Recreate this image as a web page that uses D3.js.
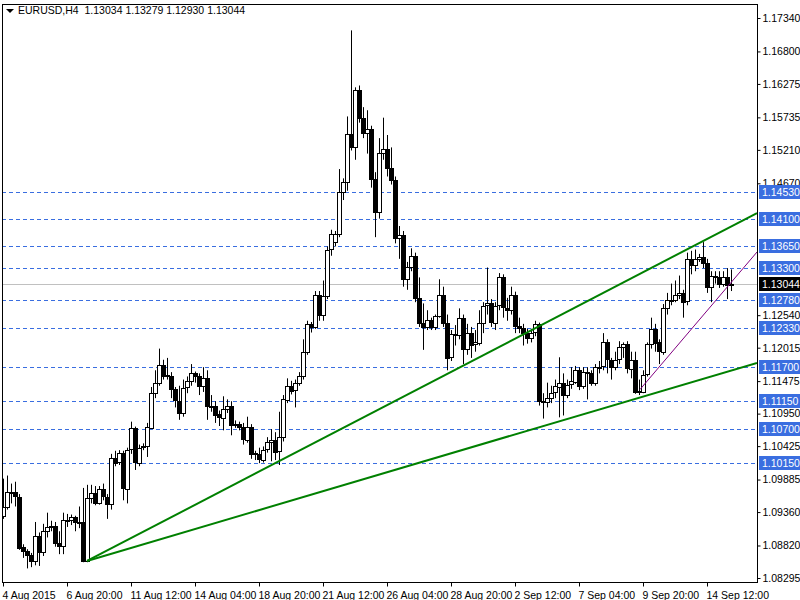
<!DOCTYPE html>
<html><head><meta charset="utf-8">
<script src="https://cdn.jsdelivr.net/npm/d3@7"></script>
<style>body{margin:0;background:#fff}svg{display:block;font-family:"Liberation Sans",sans-serif}</style>
</head><body><svg id="c" width="800" height="600"></svg>
<script>
const opens=[1.0930,1.0944,1.0968,1.0968,1.0961,1.0879,1.0873,1.0866,1.0857,1.0897,1.0871,1.0905,1.0912,1.0913,1.0886,1.0881,1.0923,1.0923,1.0928,1.0920,
1.0920,1.0857,1.0958,1.0966,1.0950,1.0973,1.0961,1.0950,1.1024,1.1016,1.1031,1.0974,1.1037,1.1071,1.1016,1.1042,1.1042,1.1073,1.1129,1.1145,
1.1174,1.1157,1.1155,1.1134,1.1116,1.1097,1.1137,1.1147,1.1160,1.1155,1.1139,1.1152,1.1107,1.1108,1.1094,1.1089,1.1103,1.1108,1.1078,1.1078,
1.1073,1.1053,1.1074,1.1031,1.1029,1.1021,1.1037,1.1049,1.1053,1.1034,1.1057,1.1118,1.1140,1.1132,1.1144,1.1155,1.1194,1.1240,1.1235,1.1287,
1.1255,1.1285,1.1360,1.1372,1.1385,1.1453,1.1469,1.1547,1.1526,1.1618,1.1572,1.1548,1.1555,1.1474,1.1421,1.1516,1.1522,1.1492,1.1472,1.1379,
1.1384,1.1313,1.1332,1.1350,1.1282,1.1242,1.1235,1.1247,1.1235,1.1253,1.1287,1.1242,1.1186,1.1223,1.1223,1.1250,1.1200,1.1226,1.1207,1.1210,
1.1242,1.1269,1.1273,1.1242,1.1269,1.1315,1.1266,1.1263,1.1287,1.1237,1.1234,1.1226,1.1218,1.1226,1.1239,1.1115,1.1115,1.1121,1.1129,1.1139,
1.1145,1.1126,1.1142,1.1147,1.1166,1.1140,1.1163,1.1161,1.1145,1.1171,1.1171,1.1210,1.1182,1.1171,1.1182,1.1202,1.1207,1.1168,1.1182,1.1131,
1.1131,1.1158,1.1207,1.1232,1.1210,1.1195,1.1266,1.1279,1.1279,1.1287,1.1290,1.1276,1.1344,1.1335,1.1345,1.1348,1.1339,1.1300,1.1318,1.1316,
1.1305,1.1316,1.13034];
const closes=[1.0944,1.0968,1.0968,1.0961,1.0879,1.0873,1.0866,1.0857,1.0897,1.0871,1.0905,1.0912,1.0913,1.0886,1.0881,1.0923,1.0923,1.0928,1.0920,1.0920,
1.0857,1.0958,1.0966,1.0950,1.0973,1.0961,1.0950,1.1024,1.1016,1.1031,1.0974,1.1037,1.1071,1.1016,1.1040,1.1042,1.1073,1.1129,1.1145,1.1174,
1.1157,1.1155,1.1134,1.1116,1.1097,1.1137,1.1147,1.1160,1.1155,1.1139,1.1152,1.1107,1.1108,1.1094,1.1089,1.1103,1.1108,1.1078,1.1078,1.1073,
1.1053,1.1074,1.1031,1.1029,1.1021,1.1037,1.1049,1.1053,1.1034,1.1057,1.1118,1.1140,1.1132,1.1144,1.1155,1.1194,1.1240,1.1235,1.1287,1.1255,
1.1285,1.1360,1.1385,1.1385,1.1453,1.1469,1.1547,1.1526,1.1618,1.1572,1.1548,1.1555,1.1474,1.1421,1.1516,1.1522,1.1492,1.1472,1.1379,1.1384,
1.1313,1.1332,1.1350,1.1282,1.1242,1.1235,1.1247,1.1235,1.1253,1.1287,1.1242,1.1186,1.1223,1.1223,1.1250,1.1200,1.1226,1.1207,1.1210,1.1242,
1.1269,1.1273,1.1242,1.1269,1.1315,1.1266,1.1263,1.1287,1.1237,1.1234,1.1226,1.1218,1.1226,1.1239,1.1115,1.1115,1.1121,1.1129,1.1139,1.1145,
1.1126,1.1142,1.1147,1.1166,1.1140,1.1163,1.1161,1.1145,1.1171,1.1171,1.1210,1.1182,1.1171,1.1182,1.1202,1.1207,1.1168,1.1182,1.1131,1.1131,
1.1158,1.1207,1.1232,1.1210,1.1195,1.1266,1.1279,1.1279,1.1287,1.1290,1.1276,1.1344,1.1335,1.1345,1.1348,1.1339,1.1300,1.1318,1.1316,1.1305,
1.1316,1.1303,1.13044];
const highs=[1.0990,1.0995,1.0982,1.0985,1.0965,1.0884,1.0876,1.0870,1.0920,1.0903,1.0917,1.0935,1.0922,1.0920,1.0905,1.0935,1.0933,1.0932,1.0930,1.0945,
1.0975,1.0980,1.0980,1.0978,1.0978,1.0982,1.0965,1.1030,1.1035,1.1036,1.1035,1.1040,1.1082,1.1074,1.1045,1.1047,1.1080,1.1138,1.1165,1.1200,
1.1182,1.1185,1.1162,1.1138,1.1140,1.1150,1.1155,1.1175,1.1163,1.1160,1.1170,1.1165,1.1125,1.1115,1.1100,1.1123,1.1118,1.1115,1.1084,1.1082,
1.1080,1.1090,1.1078,1.1035,1.1040,1.1042,1.1057,1.1070,1.1065,1.1098,1.1125,1.1152,1.1148,1.1150,1.1162,1.1215,1.1245,1.1243,1.1293,1.1293,
1.1310,1.1365,1.1392,1.1390,1.1490,1.1475,1.1575,1.1714,1.1622,1.1625,1.1590,1.1585,1.1560,1.1485,1.1540,1.1573,1.1545,1.1525,1.1478,1.1398,
1.1390,1.1340,1.1362,1.1355,1.1315,1.1273,1.1262,1.1250,1.1255,1.1312,1.1300,1.1255,1.1230,1.1238,1.1265,1.1255,1.1240,1.1235,1.1230,1.1262,
1.1275,1.1331,1.1280,1.1275,1.1322,1.1320,1.1282,1.1300,1.1292,1.1250,1.1240,1.1232,1.1232,1.1245,1.1242,1.1128,1.1145,1.1140,1.1150,1.1186,
1.1160,1.1150,1.1170,1.1172,1.1170,1.1170,1.1170,1.1165,1.1175,1.1180,1.1225,1.1215,1.1185,1.1195,1.1212,1.1210,1.1212,1.1195,1.1195,1.1150,
1.1165,1.1210,1.1250,1.1240,1.1215,1.1272,1.1290,1.1305,1.1310,1.1318,1.1295,1.1355,1.1358,1.1360,1.1353,1.1372,1.1345,1.1325,1.1325,1.1325,
1.1325,1.1330,1.13279];
const lows=[1.0925,1.0940,1.0950,1.0945,1.0875,1.0862,1.0845,1.0847,1.0850,1.0849,1.0865,1.0895,1.0905,1.0880,1.0868,1.0868,1.0912,1.0915,1.0905,1.0910,
1.0855,1.0855,1.0950,1.0947,1.0948,1.0955,1.0925,1.0940,1.1010,1.1012,1.0955,1.0950,1.1030,1.1004,1.1010,1.1036,1.1025,1.1070,1.1120,1.1140,
1.1150,1.1150,1.1120,1.1105,1.1085,1.1090,1.1128,1.1140,1.1145,1.1125,1.1130,1.1085,1.1098,1.1080,1.1075,1.1068,1.1096,1.1060,1.1072,1.1068,
1.1045,1.1048,1.1022,1.1020,1.1015,1.1016,1.1032,1.1018,1.1020,1.1012,1.1050,1.1112,1.1126,1.1105,1.1140,1.1150,1.1190,1.1226,1.1232,1.1245,
1.1245,1.1280,1.1350,1.1365,1.1380,1.1440,1.1455,1.1520,1.1505,1.1565,1.1540,1.1515,1.1460,1.1380,1.1410,1.1505,1.1478,1.1465,1.1370,1.1345,
1.1300,1.1295,1.1325,1.1275,1.1235,1.1198,1.1230,1.1230,1.1230,1.1250,1.1235,1.1165,1.1180,1.1205,1.1215,1.1175,1.1190,1.1185,1.1195,1.1205,
1.1225,1.1255,1.1235,1.1230,1.1262,1.1250,1.1245,1.1255,1.1225,1.1225,1.1205,1.1208,1.1210,1.1220,1.1108,1.1087,1.1105,1.1112,1.1120,1.1089,
1.1092,1.1120,1.1135,1.1143,1.1133,1.1135,1.1118,1.1140,1.1140,1.1160,1.1165,1.1160,1.1150,1.1165,1.1175,1.1185,1.1160,1.1152,1.1127,1.1125,
1.1128,1.1155,1.1200,1.1195,1.1175,1.1190,1.1255,1.1270,1.1275,1.1280,1.1250,1.1270,1.1320,1.1325,1.1340,1.1330,1.1290,1.1275,1.1305,1.1298,
1.1300,1.1280,1.12930];
const priceTicks=[1.17340,1.16800,1.16275,1.15735,1.15210,1.14670,1.12540,1.12015,1.11475,1.10950,1.10425,1.09885,1.09360,1.08820,1.08295];
const levels=[1.14530,1.14100,1.13650,1.13300,1.12780,1.12330,1.11700,1.11150,1.10700,1.10150];
const lastPrice=1.13044;
const timeLabels=["4 Aug 2015","6 Aug 20:00","11 Aug 12:00","14 Aug 04:00","18 Aug 20:00","21 Aug 12:00","26 Aug 04:00","28 Aug 20:00","2 Sep 12:00","7 Sep 04:00","9 Sep 20:00","14 Sep 12:00"];
const timeLabelIdx=[0,16,32,48,64,80,96,112,128,144,160,176];
const trendA=[[21,1.0857],[188.5,1.1419]];
const trendB=[[21,1.0857],[188.5,1.1177]];
const trendC=[[159.25,1.1134],[188.5,1.1356]];

const FS=10.5;
const svg=d3.select("#c");
const L=2,R=757,T=4,B=582;
const x=d3.scaleLinear().domain([0,1]).range([3,7]);
const y=d3.scaleLinear().domain([1.08295,1.17340]).range([578,18]);
const g=svg.append("g");
svg.append("defs").append("clipPath").attr("id","clip").append("rect").attr("x",L).attr("y",T).attr("width",R-L).attr("height",B-T);
const plot=g.append("g").attr("clip-path","url(#clip)");
plot.selectAll("line.lv").data(levels).join("line").attr("x1",L).attr("x2",R).attr("y1",d=>Math.round(y(d))+.5).attr("y2",d=>Math.round(y(d))+.5)
 .attr("stroke","#3a6ee0").attr("stroke-dasharray","4,3");
plot.append("line").attr("x1",L).attr("x2",R).attr("y1",Math.round(y(lastPrice))+.5).attr("y2",Math.round(y(lastPrice))+.5).attr("stroke","#c0c0c0");
const data=closes.map((c,i)=>({i,o:opens[i],h:highs[i],l:lows[i],c}));
const cg=plot.selectAll("g.cd").data(data).join("g");
cg.append("line").attr("x1",d=>Math.round(x(d.i))+.5).attr("x2",d=>Math.round(x(d.i))+.5).attr("y1",d=>y(d.h)).attr("y2",d=>y(d.l)).attr("stroke","#000");
cg.append("rect").attr("x",d=>Math.round(x(d.i))-1.5).attr("width",4)
 .attr("y",d=>Math.round(y(Math.max(d.o,d.c)))+.5).attr("height",d=>Math.max(1,Math.round(Math.abs(y(d.o)-y(d.c)))))
 .attr("fill",d=>d.c>=d.o?"#fff":"#000").attr("stroke","#000");
const ln=d3.line().x(d=>x(d[0])).y(d=>y(d[1]));
plot.append("path").attr("d",ln(trendA)).attr("stroke","#008000").attr("stroke-width",2).attr("fill","none");
plot.append("path").attr("d",ln(trendB)).attr("stroke","#008000").attr("stroke-width",2).attr("fill","none");
plot.append("path").attr("d",ln(trendC)).attr("stroke","#800080").attr("stroke-width",1).attr("fill","none");
g.append("rect").attr("x",L+.5).attr("y",T+.5).attr("width",R-L).attr("height",B-T).attr("fill","none").attr("stroke","#000");
const ya=g.append("g").attr("transform",`translate(${R+.5},0)`).call(d3.axisRight(y).tickValues(priceTicks).tickSize(3).tickFormat(d3.format(".5f")));
ya.select(".domain").remove();
ya.selectAll("text").attr("font-size",FS).attr("fill","#000").attr("x",5).attr("font-family","Liberation Sans");
ya.selectAll("line").attr("stroke","#000");
const lb=g.selectAll("g.lb").data(levels).join("g").attr("transform",d=>`translate(${R+1},${Math.round(y(d))})`);
lb.append("rect").attr("x",1).attr("y",-7).attr("width",42).attr("height",14).attr("fill","#3a6ee0");
lb.append("text").attr("x",4).attr("y",4).attr("fill","#fff").attr("font-size",FS).text(d=>d3.format(".5f")(d));
const cp=g.append("g").attr("transform",`translate(${R+1},${Math.round(y(lastPrice))})`);
cp.append("rect").attr("x",1).attr("y",-7).attr("width",42).attr("height",14).attr("fill","#000");
cp.append("text").attr("x",4).attr("y",4).attr("fill","#fff").attr("font-size",FS).text(d3.format(".5f")(lastPrice));
const xa=g.append("g").attr("transform",`translate(0,${B+.5})`).call(d3.axisBottom(x).tickValues(timeLabelIdx).tickSize(4).tickFormat((d,k)=>timeLabels[k]));
xa.select(".domain").remove();
xa.selectAll("text").attr("font-size",FS).attr("fill","#000").attr("text-anchor","start").attr("x",-1).attr("dy","0.9em").attr("font-family","Liberation Sans");
xa.selectAll("line").attr("stroke","#000");
g.append("path").attr("d","M6,9 L14,9 L10,13 Z").attr("fill","#000");
g.append("text").attr("x",18).attr("y",14).attr("font-size",FS).attr("fill","#000").attr("xml:space","preserve").text("EURUSD,H4  1.13034 1.13279 1.12930 1.13044");
</script></body></html>
